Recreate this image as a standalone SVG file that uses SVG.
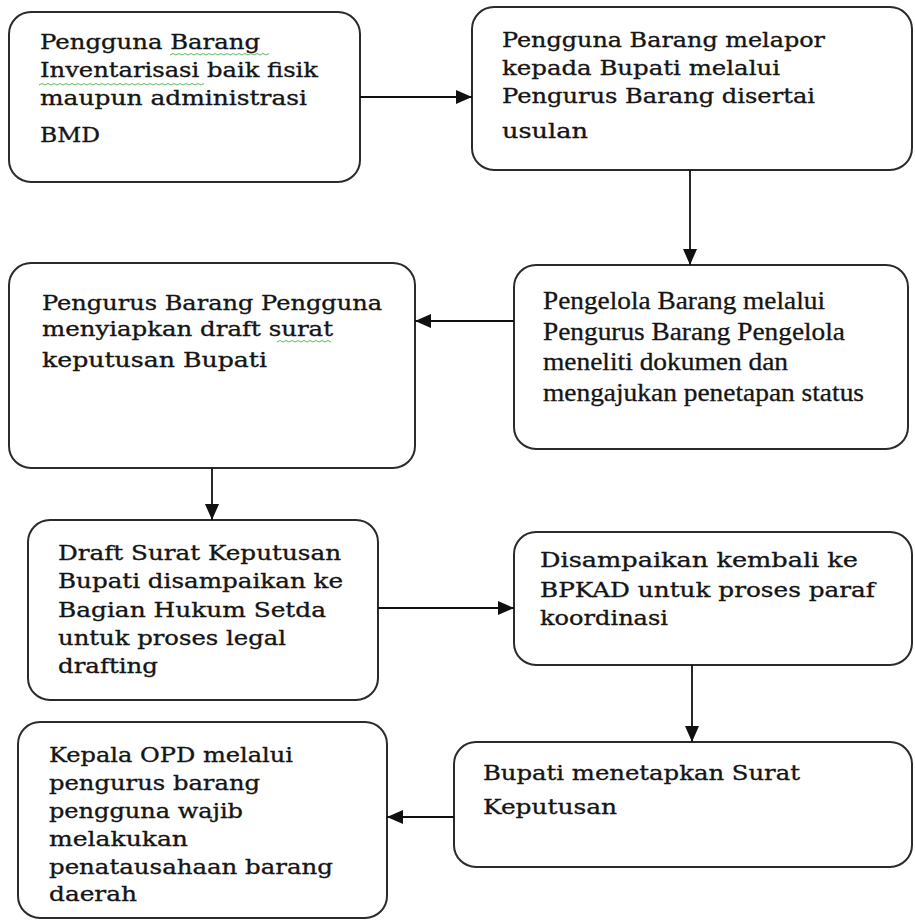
<svg xmlns="http://www.w3.org/2000/svg" width="915" height="923" viewBox="0 0 915 923">
<style>
  .box{fill:#fff;stroke:#2b2b2b;stroke-width:2}
  .t{font-family:"DejaVu Serif","Liberation Serif",serif;font-size:21px;fill:#151515;stroke:#151515;stroke-width:0.35}
  .tr{font-family:"Liberation Serif","Times New Roman",serif;font-size:25px;fill:#151515;stroke:#151515;stroke-width:0.3}
  .c{stroke:#111;stroke-width:1.8;fill:none}
  .sq{stroke:#4caf50;stroke-width:0.9;fill:none}
</style>
<defs>
  <marker id="ah" viewBox="0 0 16 14" refX="16" refY="7" markerWidth="16" markerHeight="14" markerUnits="userSpaceOnUse" orient="auto">
    <path d="M0,0 L16,7 L0,14 z" fill="#111"/>
  </marker>
</defs>
<rect width="915" height="923" fill="#fff"/>

<g id="n1">
  <rect class="box" x="9" y="12" width="351" height="170" rx="22"/>
  <text class="t" x="40" y="49" textLength="220" lengthAdjust="spacingAndGlyphs">Pengguna Barang</text>
  <text class="t" x="40" y="77" textLength="278" lengthAdjust="spacingAndGlyphs">Inventarisasi baik fisik</text>
  <text class="t" x="40" y="105" textLength="267" lengthAdjust="spacingAndGlyphs">maupun administrasi</text>
  <text class="t" x="40" y="142" textLength="60" lengthAdjust="spacingAndGlyphs">BMD</text>
  <path class="sq" d="M170,55 l3,-1.5 l3,1.5 l3,-1.5 l3,1.5 l3,-1.5 l3,1.5 l3,-1.5 l3,1.5 l3,-1.5 l3,1.5 l3,-1.5 l3,1.5 l3,-1.5 l3,1.5 l3,-1.5 l3,1.5 l3,-1.5 l3,1.5 l3,-1.5 l3,1.5 l3,-1.5 l3,1.5 l3,-1.5 l3,1.5 l3,-1.5 l3,1.5 l3,-1.5 l3,1.5 l3,-1.5 l3,1.5 l3,-1.5 l3,1.5 l3,-1.5"/>
  <path class="sq" d="M39,85 l3,-1.5 l3,1.5 l3,-1.5 l3,1.5 l3,-1.5 l3,1.5 l3,-1.5 l3,1.5 l3,-1.5 l3,1.5 l3,-1.5 l3,1.5 l3,-1.5 l3,1.5 l3,-1.5 l3,1.5 l3,-1.5 l3,1.5 l3,-1.5 l3,1.5 l3,-1.5 l3,1.5 l3,-1.5 l3,1.5 l3,-1.5 l3,1.5 l3,-1.5 l3,1.5 l3,-1.5 l3,1.5 l3,-1.5 l3,1.5 l3,-1.5 l3,1.5 l3,-1.5 l3,1.5 l3,-1.5 l3,1.5 l3,-1.5 l3,1.5 l3,-1.5 l3,1.5 l3,-1.5 l3,1.5 l3,-1.5 l3,1.5 l3,-1.5 l3,1.5 l3,-1.5 l3,1.5 l3,-1.5 l3,1.5 l3,-1.5 l3,1.5 l3,-1.5"/>
</g>

<g id="n2">
  <rect class="box" x="472" y="7" width="440" height="163" rx="22"/>
  <text class="t" x="502" y="47" textLength="323" lengthAdjust="spacingAndGlyphs">Pengguna Barang melapor</text>
  <text class="t" x="502" y="75" textLength="278" lengthAdjust="spacingAndGlyphs">kepada Bupati melalui</text>
  <text class="t" x="502" y="103" textLength="313" lengthAdjust="spacingAndGlyphs">Pengurus Barang disertai</text>
  <text class="t" x="502" y="138" textLength="86" lengthAdjust="spacingAndGlyphs">usulan</text>
</g>

<g id="n3">
  <rect class="box" x="9" y="263" width="406" height="205" rx="22"/>
  <text class="t" x="42" y="310" textLength="340" lengthAdjust="spacingAndGlyphs">Pengurus Barang Pengguna</text>
  <text class="t" x="42" y="336" textLength="291" lengthAdjust="spacingAndGlyphs">menyiapkan draft surat</text>
  <text class="t" x="42" y="367" textLength="225" lengthAdjust="spacingAndGlyphs">keputusan Bupati</text>
  <path class="sq" d="M277,342 l3,-1.5 l3,1.5 l3,-1.5 l3,1.5 l3,-1.5 l3,1.5 l3,-1.5 l3,1.5 l3,-1.5 l3,1.5 l3,-1.5 l3,1.5 l3,-1.5 l3,1.5 l3,-1.5 l3,1.5 l3,-1.5 l3,1.5"/>
</g>

<g id="n4">
  <rect class="box" x="514" y="265" width="394" height="184" rx="22"/>
  <text class="tr" x="543" y="309" textLength="282" lengthAdjust="spacingAndGlyphs">Pengelola Barang melalui</text>
  <text class="tr" x="543" y="340" textLength="302" lengthAdjust="spacingAndGlyphs">Pengurus Barang Pengelola</text>
  <text class="tr" x="543" y="370" textLength="245" lengthAdjust="spacingAndGlyphs">meneliti dokumen dan</text>
  <text class="tr" x="543" y="401" textLength="321" lengthAdjust="spacingAndGlyphs">mengajukan penetapan status</text>
</g>

<g id="n5">
  <rect class="box" x="28" y="520" width="350" height="180" rx="22"/>
  <text class="t" x="58" y="560" textLength="283" lengthAdjust="spacingAndGlyphs">Draft Surat Keputusan</text>
  <text class="t" x="58" y="588" textLength="285" lengthAdjust="spacingAndGlyphs">Bupati disampaikan ke</text>
  <text class="t" x="58" y="617" textLength="268" lengthAdjust="spacingAndGlyphs">Bagian Hukum Setda</text>
  <text class="t" x="58" y="645" textLength="228" lengthAdjust="spacingAndGlyphs">untuk proses legal</text>
  <text class="t" x="58" y="673" textLength="100" lengthAdjust="spacingAndGlyphs">drafting</text>
</g>

<g id="n6">
  <rect class="box" x="514" y="532" width="398" height="133" rx="22"/>
  <text class="t" x="540" y="567" textLength="318" lengthAdjust="spacingAndGlyphs">Disampaikan kembali ke</text>
  <text class="t" x="540" y="597" textLength="335" lengthAdjust="spacingAndGlyphs">BPKAD untuk proses paraf</text>
  <text class="t" x="540" y="625" textLength="128" lengthAdjust="spacingAndGlyphs">koordinasi</text>
</g>

<g id="n7">
  <rect class="box" x="18" y="722" width="369" height="196" rx="22"/>
  <text class="t" x="49" y="762" textLength="244" lengthAdjust="spacingAndGlyphs">Kepala OPD melalui</text>
  <text class="t" x="49" y="790" textLength="211" lengthAdjust="spacingAndGlyphs">pengurus barang</text>
  <text class="t" x="49" y="818" textLength="194" lengthAdjust="spacingAndGlyphs">pengguna wajib</text>
  <text class="t" x="49" y="846" textLength="139" lengthAdjust="spacingAndGlyphs">melakukan</text>
  <text class="t" x="49" y="874" textLength="284" lengthAdjust="spacingAndGlyphs">penatausahaan barang</text>
  <text class="t" x="49" y="901" textLength="88" lengthAdjust="spacingAndGlyphs">daerah</text>
</g>

<g id="n8">
  <rect class="box" x="454" y="742" width="458" height="125" rx="22"/>
  <text class="t" x="483" y="780" textLength="317" lengthAdjust="spacingAndGlyphs">Bupati menetapkan Surat</text>
  <text class="t" x="483" y="814" textLength="134" lengthAdjust="spacingAndGlyphs">Keputusan</text>
</g>

<g id="connectors">
  <line class="c" x1="360" y1="97" x2="472" y2="97" marker-end="url(#ah)"/>
  <line class="c" x1="690" y1="170" x2="690" y2="265" marker-end="url(#ah)"/>
  <line class="c" x1="514" y1="321" x2="415" y2="321" marker-end="url(#ah)"/>
  <line class="c" x1="212" y1="468" x2="212" y2="520" marker-end="url(#ah)"/>
  <line class="c" x1="378" y1="608" x2="514" y2="608" marker-end="url(#ah)"/>
  <line class="c" x1="692" y1="665" x2="692" y2="742" marker-end="url(#ah)"/>
  <line class="c" x1="454" y1="817" x2="387" y2="817" marker-end="url(#ah)"/>
</g>
</svg>
